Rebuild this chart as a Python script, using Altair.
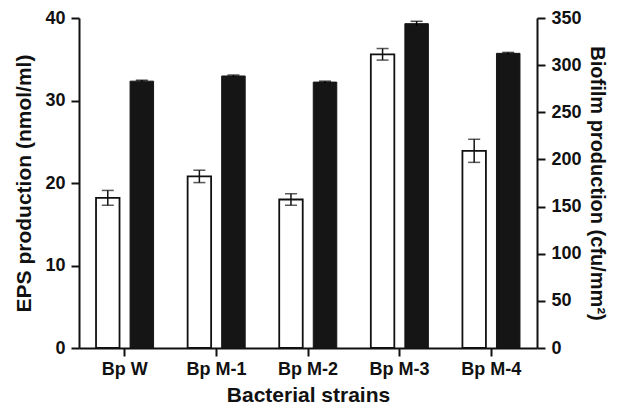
import altair as alt
import pandas as pd

strains = ["Bp W", "Bp M-1", "Bp M-2", "Bp M-3", "Bp M-4"]
eps = [18.2, 20.8, 18.0, 35.6, 23.9]
eps_err = [0.9, 0.75, 0.7, 0.7, 1.4]
biofilm = [283, 288.5, 282, 344, 312.5]
biofilm_err = [1.0, 1.0, 1.0, 2.5, 1.0]

df_eps = pd.DataFrame({
    "strain": strains, "series": "EPS", "value": eps,
    "lo": [v - e for v, e in zip(eps, eps_err)],
    "hi": [v + e for v, e in zip(eps, eps_err)],
})
df_bio = pd.DataFrame({
    "strain": strains, "series": "Biofilm", "value": biofilm,
    "lo": [v - e for v, e in zip(biofilm, biofilm_err)],
    "hi": [v + e for v, e in zip(biofilm, biofilm_err)],
})

FONT = "Liberation Sans"
x_enc = alt.X("strain:N", sort=strains, title="Bacterial strains",
              scale=alt.Scale(paddingInner=0, paddingOuter=0),
              axis=alt.Axis(labelAngle=0, tickSize=8, labelPadding=4, titlePadding=6))
off_enc = alt.XOffset("series:N", sort=["EPS", "Biofilm"],
                      scale=alt.Scale(domain=["EPS", "Biofilm"], paddingInner=0.31, paddingOuter=0.5))

y_left = alt.Y("value:Q", title="EPS production (nmol/ml)",
               scale=alt.Scale(domain=[0, 40], nice=False),
               axis=alt.Axis(values=[0, 10, 20, 30, 40], tickSize=8, labelPadding=6, titlePadding=10))
y_right = alt.Y("value:Q", title="Biofilm production (cfu/mm²)",
                scale=alt.Scale(domain=[0, 350], nice=False),
                axis=alt.Axis(orient="right", values=list(range(0, 351, 50)), tickSize=8,
                              labelPadding=6, titlePadding=5, titleAngle=90, titleFontSize=20))

base_e = alt.Chart(df_eps)
eps_bars = base_e.mark_bar(fill="white", stroke="#111111", strokeWidth=1.8).encode(
    x=x_enc, xOffset=off_enc, y=y_left)
eps_rule = base_e.mark_rule(color="#111111", strokeWidth=1.5).encode(
    x=x_enc, xOffset=off_enc, y=alt.Y("lo:Q"), y2="hi:Q")
eps_cap_hi = base_e.mark_tick(color="#111111", thickness=1.5, size=12).encode(
    x=x_enc, xOffset=off_enc, y=alt.Y("hi:Q"))
eps_cap_lo = base_e.mark_tick(color="#111111", thickness=1.5, size=12).encode(
    x=x_enc, xOffset=off_enc, y=alt.Y("lo:Q"))
left = alt.layer(eps_bars, eps_rule, eps_cap_hi, eps_cap_lo)

base_b = alt.Chart(df_bio)
bio_bars = base_b.mark_bar(fill="#151515", stroke="#151515", strokeWidth=1).encode(
    x=x_enc, xOffset=off_enc, y=y_right)
bio_rule = base_b.mark_rule(color="black", strokeWidth=1.5).encode(
    x=x_enc, xOffset=off_enc, y=alt.Y("lo:Q"), y2="hi:Q")
bio_cap_hi = base_b.mark_tick(color="black", thickness=1.5, size=12).encode(
    x=x_enc, xOffset=off_enc, y=alt.Y("hi:Q"))
right = alt.layer(bio_bars, bio_rule, bio_cap_hi)

chart = alt.layer(left, right).resolve_scale(y="independent").properties(
    width=458, height=330,
    autosize=alt.AutoSizeParams(type="none"),
    padding={"left": 71, "top": 10, "right": 74, "bottom": 56},
).configure_view(stroke=None).configure_axis(
    grid=False,
    domainColor="#111111", domainWidth=2,
    tickColor="#111111", tickWidth=2,
    labelFont=FONT, labelFontSize=18, labelFontWeight="bold", labelColor="#111111",
    titleFont=FONT, titleFontSize=21, titleFontWeight="bold", titleColor="#111111",
)

chart.save("out.html", embed_options={"renderer": "svg", "actions": False})
